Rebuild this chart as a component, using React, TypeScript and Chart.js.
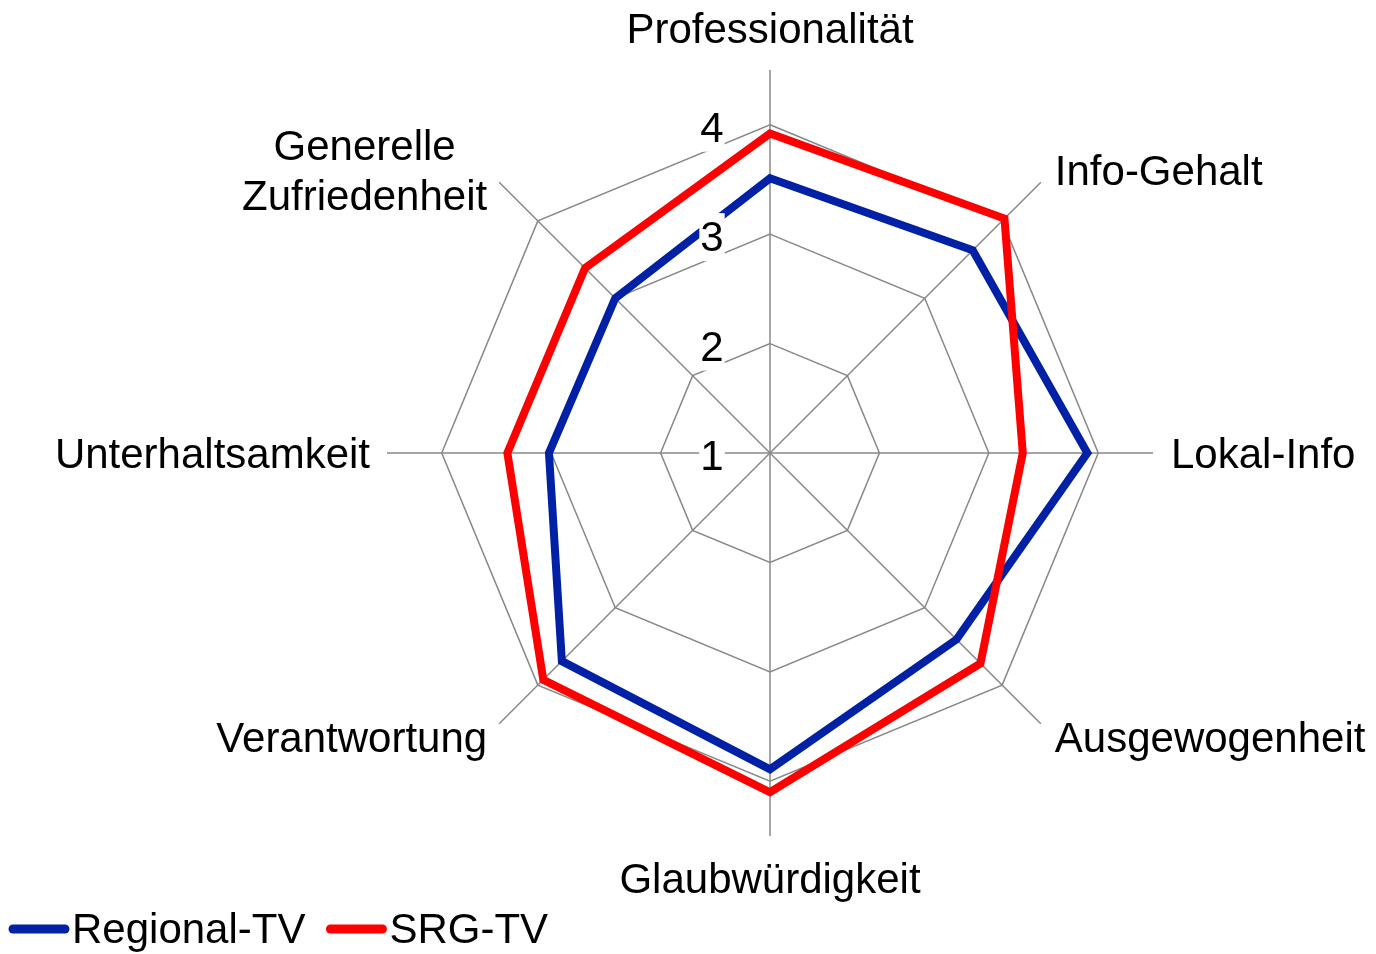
import { useEffect, useRef } from 'react';
import { Chart, registerables } from 'chart.js';

Chart.register(...registerables);

// ---- data ----
const categories: (string | string[])[] = [
  'Professionalität',
  'Info-Gehalt',
  'Lokal-Info',
  'Ausgewogenheit',
  'Glaubwürdigkeit',
  'Verantwortung',
  'Unterhaltsamkeit',
  ['Generelle', 'Zufriedenheit'],
];
const seriesNames = ['Regional-TV', 'SRG-TV'];
const regionalTV = [3.51, 3.62, 3.9, 3.41, 3.89, 3.69, 3.02, 3.0];
const srgTV = [3.92, 4.03, 3.31, 3.72, 4.1, 3.93, 3.4, 3.39];
const tickValues = [1, 2, 3, 4];
const scaleMin = 1;
const scaleMax = 4.5;

const FONT_FAMILY = '"Liberation Sans", Arial, Helvetica, sans-serif';
const FONT = `42px ${FONT_FAMILY}`;

const textPlugin = {
  id: 'customText',
  afterDatasetsDraw(chart: any) {
    const s = chart.scales.r;
    const ctx = chart.ctx;
    ctx.save();
    ctx.font = FONT;
    ctx.textAlign = 'center';
    ctx.textBaseline = 'alphabetic';
    tickValues.forEach((v) => {
      const y = s.yCenter - s.getDistanceFromCenterForValue(v);
      const x = s.xCenter - 58;
      const label = String(v);
      const w = ctx.measureText(label).width;
      const base = y + 17;
      ctx.fillStyle = '#ffffff';
      ctx.fillRect(x - w / 2 - 1, base - 38, w + 2, 48);
      ctx.fillStyle = '#000000';
      ctx.fillText(label, x, base);
    });
    ctx.restore();
  },
  afterDraw(chart: any) {
    const s = chart.scales.r;
    const ctx = chart.ctx;
    ctx.save();
    ctx.font = FONT;
    ctx.textAlign = 'center';
    ctx.textBaseline = 'alphabetic';
    ctx.fillStyle = '#000000';
    const outer = s.getDistanceFromCenterForValue(s.max);
    (chart.data.labels as (string | string[])[]).forEach((lab, i) => {
      const p = s.getPointPosition(i, outer);
      const dx = p.x - s.xCenter;
      const dy = p.y - s.yCenter;
      const lines = Array.isArray(lab) ? lab : [lab];
      const lh = 50;
      const maxW = Math.max(...lines.map((l) => ctx.measureText(l).width));
      let cx: number;
      let midY: number;
      if (Math.abs(dx) < 1) {
        cx = p.x;
        midY = dy < 0 ? p.y - 42 : p.y + 42;
      } else if (Math.abs(dy) < 1) {
        midY = p.y;
        cx = dx > 0 ? p.x + 18 + maxW / 2 : p.x - 17 - maxW / 2;
      } else {
        midY = dy < 0 ? p.y - 12 : p.y + 13;
        cx = dx > 0 ? p.x + 14 + maxW / 2 : p.x - 12 - maxW / 2;
      }
      lines.forEach((l, k) => {
        const capMid = midY + (k - (lines.length - 1) / 2) * lh;
        ctx.fillText(l, cx, capMid + 15);
      });
    });

    // legend
    ctx.textAlign = 'left';
    let x = 13;
    const ly = 929;
    chart.data.datasets.forEach((ds: any) => {
      ctx.strokeStyle = ds.borderColor;
      ctx.lineWidth = 9;
      ctx.lineCap = 'round';
      ctx.beginPath();
      ctx.moveTo(x, ly);
      ctx.lineTo(x + 52, ly);
      ctx.stroke();
      const tx = x + 59;
      ctx.fillStyle = '#000000';
      ctx.fillText(ds.label, tx, ly + 14);
      x = tx + ctx.measureText(ds.label).width + 25;
    });
    ctx.restore();
  },
};

export default function App() {
  const ref = useRef<HTMLCanvasElement | null>(null);
  useEffect(() => {
    if (!ref.current) return;
    const chart = new Chart(ref.current, {
      type: 'radar',
      data: {
        labels: categories as any,
        datasets: [
          {
            label: seriesNames[0],
            data: regionalTV,
            borderColor: '#0021A5',
            backgroundColor: 'transparent',
            borderWidth: 8,
            pointRadius: 0,
            pointHoverRadius: 0,
            fill: false,
            borderJoinStyle: 'miter',
            order: 1,
          },
          {
            label: seriesNames[1],
            data: srgTV,
            borderColor: '#FF0000',
            backgroundColor: 'transparent',
            borderWidth: 8,
            pointRadius: 0,
            pointHoverRadius: 0,
            fill: false,
            borderJoinStyle: 'miter',
            order: 0,
          },
        ],
      },
      options: {
        responsive: false,
        animation: false,
        layout: { padding: { left: 387, top: 70, right: 223, bottom: 118 } },
        plugins: {
          legend: { display: false },
          tooltip: { enabled: false },
        },
        scales: {
          r: {
            min: scaleMin,
            max: scaleMax,
            ticks: { display: false, stepSize: 1 },
            afterBuildTicks: (sc: any) => {
              sc.ticks = tickValues.map((v) => ({ value: v }));
            },
            grid: { color: '#888888', lineWidth: 1.5, circular: false },
            angleLines: { display: true, color: '#888888', lineWidth: 1.5 },
            pointLabels: { display: false },
          },
        },
      } as any,
      plugins: [textPlugin],
    });
    return () => chart.destroy();
  }, []);
  return (
    <div style={{ position: 'fixed', left: 0, top: 0, width: 1376, height: 954, background: '#fff' }}>
      <canvas ref={ref} width={1376} height={954} style={{ display: 'block' }} />
    </div>
  );
}
